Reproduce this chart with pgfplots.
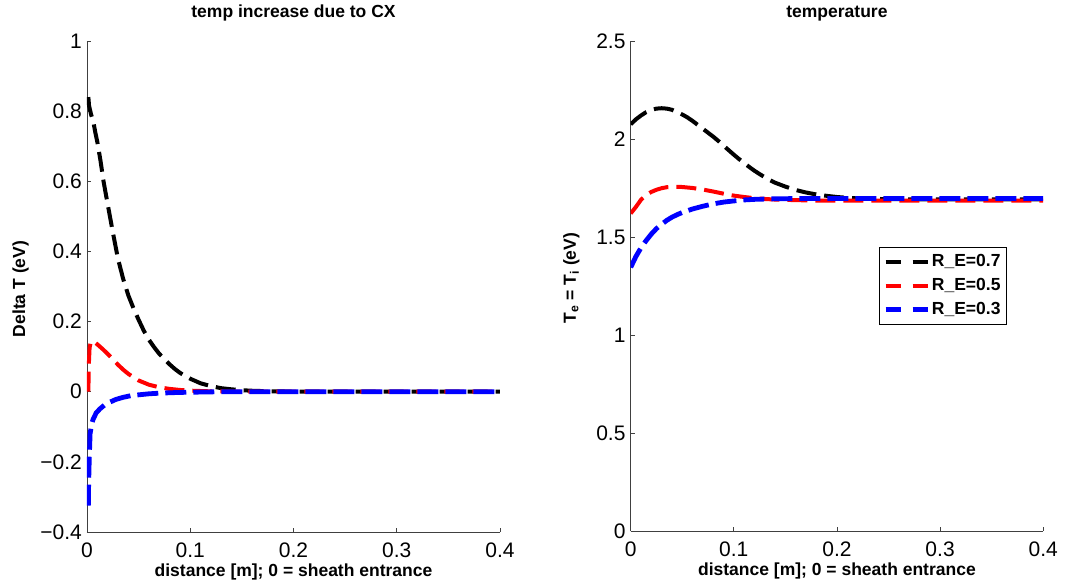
\documentclass[border=0pt]{standalone}
\usepackage{fontspec}
\setmainfont{Liberation Sans}
\usepackage{pgfplots}
\pgfplotsset{compat=1.18}
\newcommand{\labfont}{\bfseries\fontsize{17.5}{20}\selectfont}
\begin{document}
\begin{tikzpicture}
\useasboundingbox (0,0) rectangle (1066pt,586pt);
\pgfplotsset{
 mstyle/.style={
  scale only axis,
  axis x line*=bottom, axis y line*=left,
  axis line style={-, black!75, line width=0.8pt},
  tick style={black!75, line width=0.8pt},
  tick align=inside,
  major tick length=4pt,
  xmin=0, xmax=0.4,
  xtick={0,0.1,0.2,0.3,0.4},
  xticklabels={0,0.1,0.2,0.3,0.4},
  tick label style={font=\fontsize{21}{24}\selectfont},
  xticklabel style={anchor=base, yshift=-26pt},
  yticklabel style={anchor=east, inner sep=0pt, xshift=-5pt},
  title style={font=\labfont, at={(0.5,1)}, anchor=base, yshift=17pt},
  xlabel style={font=\labfont, at={(axis description cs:0.5,0)}, anchor=base, yshift=-45pt},
  ylabel style={font=\labfont, anchor=base},
  /pgf/number format/assume math mode=true,
 },
 c7/.style={black, line width=4pt, dash pattern=on 20pt off 8pt},
 c5/.style={red, line width=4pt, dash pattern=on 20pt off 8pt},
 c3/.style={blue, line width=4.8pt, dash pattern=on 21pt off 7pt},
}
% ---------------- left axis ----------------
\begin{axis}[mstyle,
  at={(87pt,54pt)}, anchor=south west,
  width=413pt, height=491pt,
  ymin=-0.4, ymax=1,
  ytick={-0.4,-0.2,0,0.2,0.4,0.6,0.8,1},
  yticklabels={−0.4,−0.2,0,0.2,0.4,0.6,0.8,1},
  title={temp increase due to CX},
  xlabel={distance [m]; 0 = sheath entrance},
  ylabel={Delta T (eV)},
  ylabel style={at={(axis description cs:-0.150,0.495)}},
]
\addplot[c7] coordinates {
(0.0013,0.840) (0.002,0.815) (0.004,0.790) (0.006,0.772) (0.008,0.740) (0.010,0.712)
(0.013,0.660) (0.016,0.600) (0.020,0.535) (0.025,0.455) (0.030,0.379) (0.035,0.322)
(0.040,0.275) (0.045,0.238) (0.050,0.205) (0.055,0.174) (0.060,0.148) (0.065,0.127)
(0.070,0.108) (0.075,0.093) (0.080,0.078) (0.085,0.065) (0.090,0.054) (0.095,0.045)
(0.100,0.037) (0.110,0.024) (0.120,0.016) (0.130,0.010) (0.140,0.0068) (0.150,0.0043)
(0.160,0.0027) (0.180,0.001) (0.200,0.0003) (0.250,0) (0.300,0) (0.350,0) (0.400,0)
};
\addplot[c5] coordinates {
(0.0013,0.0) (0.0018,0.08) (0.0025,0.125) (0.0035,0.140) (0.005,0.145) (0.007,0.142)
(0.010,0.135) (0.015,0.122) (0.020,0.108) (0.025,0.093) (0.030,0.077) (0.035,0.063)
(0.040,0.051) (0.045,0.041) (0.050,0.032) (0.055,0.026) (0.060,0.020) (0.070,0.0125)
(0.080,0.008) (0.090,0.005) (0.100,0.003) (0.120,0.001) (0.150,0.0) (0.200,0) (0.300,0) (0.400,0)
};
\addplot[c3] coordinates {
(0.0013,-0.325) (0.0016,-0.26) (0.0022,-0.19) (0.003,-0.12) (0.0045,-0.092) (0.006,-0.078)
(0.009,-0.060) (0.0125,-0.049) (0.017,-0.038) (0.022,-0.030) (0.028,-0.022) (0.035,-0.016)
(0.043,-0.011) (0.051,-0.0086) (0.060,-0.006) (0.071,-0.004) (0.090,-0.002) (0.110,-0.001)
(0.130,0) (0.200,0) (0.300,0) (0.400,0)
};
\end{axis}
% ---------------- right axis ----------------
\begin{axis}[mstyle,
  at={(630.7pt,55pt)}, anchor=south west,
  width=412.5pt, height=490pt,
  ymin=0, ymax=2.5,
  ytick={0,0.5,1,1.5,2,2.5},
  yticklabels={0,0.5,1,1.5,2,2.5},
  title={temperature},
  xlabel={distance [m]; 0 = sheath entrance},
  ylabel={T\textsubscript{e} = T\textsubscript{i} (eV)},
  ylabel style={at={(axis description cs:-0.133,0.516)}},
  legend style={at={(axis description cs:0.912,0.580)}, anchor=north east,
    draw=black, line width=0.8pt, fill=white, font=\labfont,
    inner sep=4pt, row sep=3pt,
    nodes={text height=13pt, text depth=4pt, inner sep=2pt}},
  legend cell align=left,
  legend image code/.code={\draw[#1, dash pattern=on 15pt off 12pt] (0pt,0pt) -- (42pt,0pt);},
]
\addplot[c7] coordinates {
(0,2.075) (0.005,2.100) (0.010,2.120) (0.015,2.137) (0.020,2.148) (0.025,2.155)
(0.030,2.157) (0.035,2.155) (0.040,2.149) (0.045,2.138) (0.050,2.125) (0.055,2.110)
(0.060,2.092) (0.065,2.072) (0.070,2.052) (0.075,2.032) (0.080,2.012) (0.085,1.990)
(0.090,1.966) (0.095,1.943) (0.100,1.920) (0.105,1.898) (0.110,1.877) (0.115,1.857)
(0.120,1.838) (0.125,1.821) (0.130,1.805) (0.135,1.790) (0.140,1.777) (0.150,1.757)
(0.160,1.740) (0.170,1.727) (0.180,1.717) (0.190,1.710) (0.200,1.704) (0.210,1.700)
(0.220,1.697) (0.240,1.694) (0.270,1.692) (0.300,1.692) (0.350,1.692) (0.400,1.692)
};
\addlegendentry{R\_E=0.7}
\addplot[c5] coordinates {
(0,1.620) (0.005,1.653) (0.010,1.690) (0.015,1.715) (0.020,1.730) (0.025,1.741)
(0.030,1.749) (0.035,1.754) (0.040,1.756) (0.045,1.756) (0.050,1.755) (0.060,1.750)
(0.070,1.742) (0.080,1.732) (0.090,1.721) (0.100,1.711) (0.110,1.704) (0.120,1.698)
(0.130,1.694) (0.140,1.691) (0.160,1.688) (0.180,1.686) (0.200,1.685) (0.300,1.685) (0.400,1.685)
};
\addlegendentry{R\_E=0.5}
\addplot[c3] coordinates {
(0,1.345) (0.005,1.400) (0.010,1.445) (0.015,1.482) (0.020,1.515) (0.025,1.543)
(0.030,1.565) (0.035,1.585) (0.040,1.601) (0.045,1.614) (0.050,1.625) (0.060,1.643)
(0.070,1.657) (0.080,1.669) (0.090,1.678) (0.100,1.684) (0.110,1.689) (0.120,1.692)
(0.140,1.695) (0.160,1.696) (0.200,1.696) (0.300,1.696) (0.400,1.696)
};
\addlegendentry{R\_E=0.3}
\end{axis}
\end{tikzpicture}
\end{document}
